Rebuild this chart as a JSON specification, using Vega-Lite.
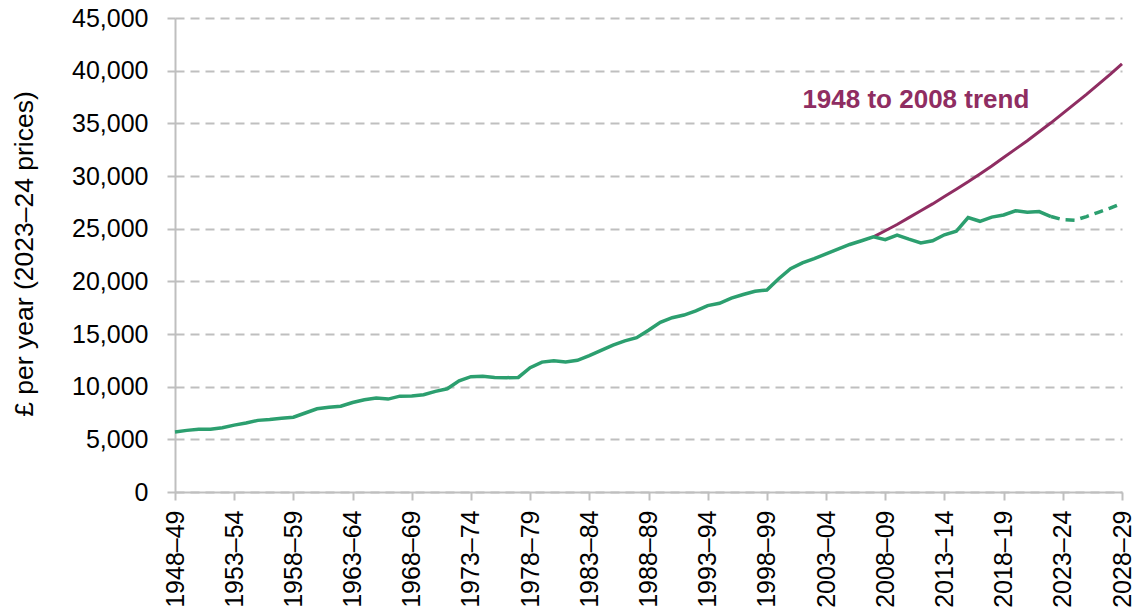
{
  "$schema": "https://vega.github.io/schema/vega-lite/v6.json",
  "width": 947,
  "height": 474,
  "autosize": "none",
  "padding": {"left": 175, "top": 18, "right": 19, "bottom": 121},
  "config": {
    "view": {"stroke": null},
    "font": "Liberation Sans",
    "axis": {"labelColor": "#000000", "titleColor": "#000000", "domainColor": "#bfbfbf", "tickColor": "#bfbfbf", "domainWidth": 2, "tickWidth": 2}
  },
  "datasets": {
    "income": [
      {"year": 1948, "value": 5700, "series": "outturn"},
      {"year": 1949, "value": 5850, "series": "outturn"},
      {"year": 1950, "value": 5950, "series": "outturn"},
      {"year": 1951, "value": 5950, "series": "outturn"},
      {"year": 1952, "value": 6100, "series": "outturn"},
      {"year": 1953, "value": 6350, "series": "outturn"},
      {"year": 1954, "value": 6550, "series": "outturn"},
      {"year": 1955, "value": 6800, "series": "outturn"},
      {"year": 1956, "value": 6880, "series": "outturn"},
      {"year": 1957, "value": 7000, "series": "outturn"},
      {"year": 1958, "value": 7100, "series": "outturn"},
      {"year": 1959, "value": 7500, "series": "outturn"},
      {"year": 1960, "value": 7900, "series": "outturn"},
      {"year": 1961, "value": 8050, "series": "outturn"},
      {"year": 1962, "value": 8150, "series": "outturn"},
      {"year": 1963, "value": 8500, "series": "outturn"},
      {"year": 1964, "value": 8750, "series": "outturn"},
      {"year": 1965, "value": 8920, "series": "outturn"},
      {"year": 1966, "value": 8820, "series": "outturn"},
      {"year": 1967, "value": 9100, "series": "outturn"},
      {"year": 1968, "value": 9120, "series": "outturn"},
      {"year": 1969, "value": 9230, "series": "outturn"},
      {"year": 1970, "value": 9550, "series": "outturn"},
      {"year": 1971, "value": 9800, "series": "outturn"},
      {"year": 1972, "value": 10550, "series": "outturn"},
      {"year": 1973, "value": 10950, "series": "outturn"},
      {"year": 1974, "value": 10980, "series": "outturn"},
      {"year": 1975, "value": 10880, "series": "outturn"},
      {"year": 1976, "value": 10850, "series": "outturn"},
      {"year": 1977, "value": 10880, "series": "outturn"},
      {"year": 1978, "value": 11800, "series": "outturn"},
      {"year": 1979, "value": 12330, "series": "outturn"},
      {"year": 1980, "value": 12450, "series": "outturn"},
      {"year": 1981, "value": 12350, "series": "outturn"},
      {"year": 1982, "value": 12500, "series": "outturn"},
      {"year": 1983, "value": 12950, "series": "outturn"},
      {"year": 1984, "value": 13450, "series": "outturn"},
      {"year": 1985, "value": 13950, "series": "outturn"},
      {"year": 1986, "value": 14350, "series": "outturn"},
      {"year": 1987, "value": 14650, "series": "outturn"},
      {"year": 1988, "value": 15350, "series": "outturn"},
      {"year": 1989, "value": 16100, "series": "outturn"},
      {"year": 1990, "value": 16550, "series": "outturn"},
      {"year": 1991, "value": 16800, "series": "outturn"},
      {"year": 1992, "value": 17200, "series": "outturn"},
      {"year": 1993, "value": 17700, "series": "outturn"},
      {"year": 1994, "value": 17920, "series": "outturn"},
      {"year": 1995, "value": 18400, "series": "outturn"},
      {"year": 1996, "value": 18750, "series": "outturn"},
      {"year": 1997, "value": 19050, "series": "outturn"},
      {"year": 1998, "value": 19180, "series": "outturn"},
      {"year": 1999, "value": 20250, "series": "outturn"},
      {"year": 2000, "value": 21200, "series": "outturn"},
      {"year": 2001, "value": 21750, "series": "outturn"},
      {"year": 2002, "value": 22150, "series": "outturn"},
      {"year": 2003, "value": 22600, "series": "outturn"},
      {"year": 2004, "value": 23050, "series": "outturn"},
      {"year": 2005, "value": 23500, "series": "outturn"},
      {"year": 2006, "value": 23850, "series": "outturn"},
      {"year": 2007, "value": 24220, "series": "outturn"},
      {"year": 2008, "value": 23950, "series": "outturn"},
      {"year": 2009, "value": 24380, "series": "outturn"},
      {"year": 2010, "value": 24000, "series": "outturn"},
      {"year": 2011, "value": 23650, "series": "outturn"},
      {"year": 2012, "value": 23850, "series": "outturn"},
      {"year": 2013, "value": 24420, "series": "outturn"},
      {"year": 2014, "value": 24750, "series": "outturn"},
      {"year": 2015, "value": 26050, "series": "outturn"},
      {"year": 2016, "value": 25700, "series": "outturn"},
      {"year": 2017, "value": 26100, "series": "outturn"},
      {"year": 2018, "value": 26300, "series": "outturn"},
      {"year": 2019, "value": 26700, "series": "outturn"},
      {"year": 2020, "value": 26550, "series": "outturn"},
      {"year": 2021, "value": 26620, "series": "outturn"},
      {"year": 2022, "value": 26150, "series": "outturn"},
      {"year": 2022, "value": 26150, "series": "forecast"},
      {"year": 2023, "value": 25850, "series": "forecast"},
      {"year": 2024, "value": 25800, "series": "forecast"},
      {"year": 2025, "value": 26150, "series": "forecast"},
      {"year": 2026, "value": 26550, "series": "forecast"},
      {"year": 2027, "value": 26950, "series": "forecast"},
      {"year": 2028, "value": 27420, "series": "forecast"}
    ],
    "trend": [
      {"year": 2007, "value": 24220},
      {"year": 2008, "value": 24800},
      {"year": 2009, "value": 25400},
      {"year": 2010, "value": 26050},
      {"year": 2011, "value": 26700},
      {"year": 2012, "value": 27350},
      {"year": 2013, "value": 28050},
      {"year": 2014, "value": 28750},
      {"year": 2015, "value": 29450},
      {"year": 2016, "value": 30200},
      {"year": 2017, "value": 30950},
      {"year": 2018, "value": 31750},
      {"year": 2019, "value": 32550},
      {"year": 2020, "value": 33350},
      {"year": 2021, "value": 34200},
      {"year": 2022, "value": 35050},
      {"year": 2023, "value": 35950},
      {"year": 2024, "value": 36850},
      {"year": 2025, "value": 37750},
      {"year": 2026, "value": 38700},
      {"year": 2027, "value": 39650},
      {"year": 2028, "value": 40650}
    ],
    "labels": [
      {"year": 2001, "value": 37200, "text": "1948 to 2008 trend"}
    ]
  },
  "encoding": {
    "x": {
      "field": "year",
      "type": "quantitative",
      "scale": {"domain": [1948, 2028], "nice": false, "zero": false},
      "axis": {
        "values": [1948, 1953, 1958, 1963, 1968, 1973, 1978, 1983, 1988, 1993, 1998, 2003, 2008, 2013, 2018, 2023, 2028],
        "labelExpr": "datum.value + '–' + substring('' + (datum.value + 1), 2, 4)",
        "labelAngle": -90,
        "labelFontSize": 25,
        "labelPadding": 10,
        "tickSize": 8,
        "grid": false,
        "title": null
      }
    },
    "y": {
      "field": "value",
      "type": "quantitative",
      "scale": {"domain": [0, 45000], "nice": false},
      "axis": {
        "values": [0, 5000, 10000, 15000, 20000, 25000, 30000, 35000, 40000, 45000],
        "format": ",.0f",
        "labelFontSize": 25,
        "labelPadding": 19,
        "tickSize": 8,
        "grid": true,
        "gridColor": "#bfbfbf",
        "gridDash": [9, 6],
        "gridWidth": 2,
        "title": "£ per year (2023–24 prices)",
        "titleFontSize": 26.5,
        "titleFontWeight": "normal",
        "titlePadding": 33,
        "titleY": 235.5,
        "titleAlign": "center"
      }
    }
  },
  "layer": [
    {
      "data": {"name": "trend"},
      "mark": {"type": "line", "color": "#8f2d62", "strokeWidth": 3},
      "encoding": {}
    },
    {
      "data": {"name": "income"},
      "transform": [{"filter": "datum.series === 'outturn'"}],
      "mark": {"type": "line", "color": "#2c9f6f", "strokeWidth": 3.5},
      "encoding": {}
    },
    {
      "data": {"name": "income"},
      "transform": [{"filter": "datum.series === 'forecast'"}],
      "mark": {"type": "line", "color": "#2c9f6f", "strokeWidth": 3.5, "strokeDash": [9, 6]},
      "encoding": {}
    },
    {
      "data": {"name": "labels"},
      "mark": {"type": "text", "align": "left", "baseline": "middle", "color": "#8f2d62", "fontSize": 26, "fontWeight": "bold"},
      "encoding": {"text": {"field": "text"}}
    }
  ]
}
